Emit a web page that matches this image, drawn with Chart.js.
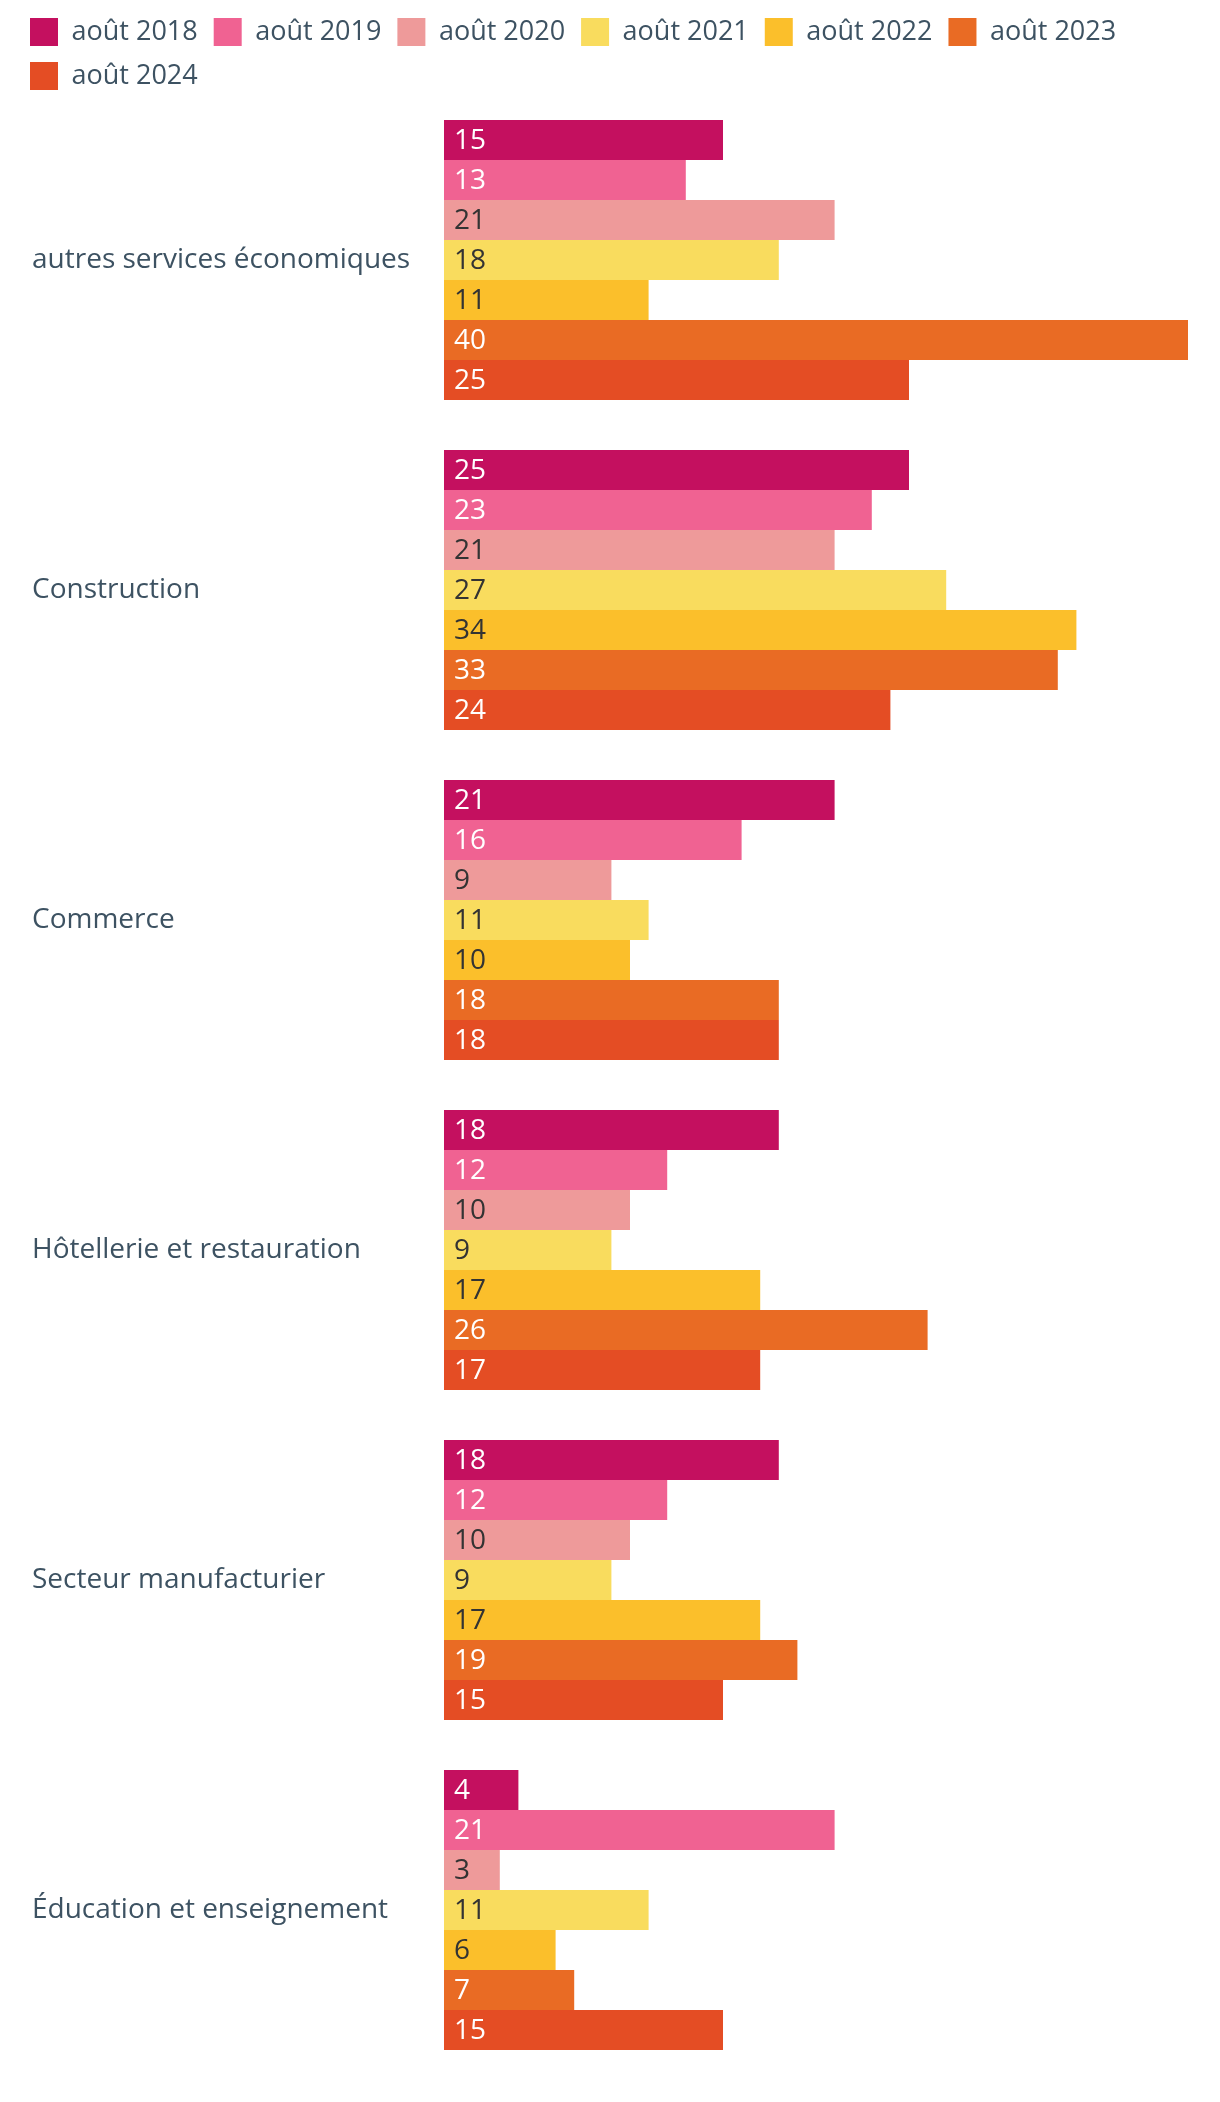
<!DOCTYPE html>
<html>
<head>
<meta charset="utf-8">
<script src="https://cdn.jsdelivr.net/npm/chart.js@4/dist/chart.umd.min.js"></script>
<style>
  html, body { margin: 0; padding: 0; background: #ffffff; }
  #wrap { width: 1220px; height: 2102px; position: relative; }
</style>
</head>
<body>
<div id="wrap"><canvas id="c"></canvas></div>
<script>
const categories = [
  "autres services économiques",
  "Construction",
  "Commerce",
  "Hôtellerie et restauration",
  "Secteur manufacturier",
  "Éducation et enseignement"
];
const seriesNames = ["août 2018", "août 2019", "août 2020", "août 2021", "août 2022", "août 2023", "août 2024"];
const aug2018 = [15, 25, 21, 18, 18, 4];
const aug2019 = [13, 23, 16, 12, 12, 21];
const aug2020 = [21, 21, 9, 10, 10, 3];
const aug2021 = [18, 27, 11, 9, 9, 11];
const aug2022 = [11, 34, 10, 17, 17, 6];
const aug2023 = [40, 33, 18, 26, 19, 7];
const aug2024 = [25, 24, 18, 17, 15, 15];
const seriesValues = [aug2018, aug2019, aug2020, aug2021, aug2022, aug2023, aug2024];

const colors = ["#C4105F", "#F06292", "#EE9A9A", "#F9DC5E", "#FBBF2B", "#E96B24", "#E44D24"];
const labelColors = ["#ffffff", "#ffffff", "#333333", "#333333", "#333333", "#ffffff", "#ffffff"];
const FONT = "'Open Sans', 'Noto Sans', sans-serif";
const FS = 28;
const LFS = 27;
const TEXT = "#3D5262";

const valueLabels = {
  id: 'valueLabels',
  afterDatasetsDraw(chart) {
    const ctx = chart.ctx;
    ctx.save();
    ctx.font = FS + "px " + FONT;
    ctx.textBaseline = 'middle';
    ctx.textAlign = 'left';
    chart.data.datasets.forEach((ds, i) => {
      const meta = chart.getDatasetMeta(i);
      meta.data.forEach((bar, j) => {
        ctx.fillStyle = labelColors[i];
        ctx.fillText(String(ds.data[j]), bar.base + 10, bar.y + 1);
      });
    });
    ctx.restore();
  }
};

new Chart(document.getElementById('c'), {
  type: 'bar',
  data: {
    labels: categories,
    datasets: seriesNames.map((n, i) => ({
      label: n,
      data: seriesValues[i],
      backgroundColor: colors[i],
      borderWidth: 0,
      categoryPercentage: 280 / 330,
      barPercentage: 1.0,
      yAxisID: 'y'
    }))
  },
  options: {
    indexAxis: 'y',
    responsive: true,
    maintainAspectRatio: false,
    animation: false,
    layout: { padding: { left: 14, right: 32, top: 2, bottom: 27 } },
    plugins: {
      tooltip: { enabled: false },
      legend: {
        position: 'top',
        align: 'start',
        maxHeight: 93,
        labels: {
          boxWidth: 28,
          boxHeight: 28,
          padding: 16,
          color: TEXT,
          font: { family: FONT, size: LFS }
        }
      }
    },
    scales: {
      y: {
        type: 'category',
        position: 'left',
        weight: 0,
        grid: { display: false },
        border: { display: false },
        ticks: {
          crossAlign: 'far',
          color: TEXT,
          font: { family: FONT, size: FS },
          padding: 0
        },
        afterFit(s) { s.width = 412; }
      },
      yPad: {
        type: 'linear',
        position: 'left',
        weight: 1,
        grid: { display: false },
        border: { display: false },
        ticks: { display: false },
        afterFit(s) { s.width = 18; }
      },
      x: {
        type: 'linear',
        min: 0,
        max: 40,
        display: false
      }
    }
  },
  plugins: [valueLabels]
});
</script>
</body>
</html>
